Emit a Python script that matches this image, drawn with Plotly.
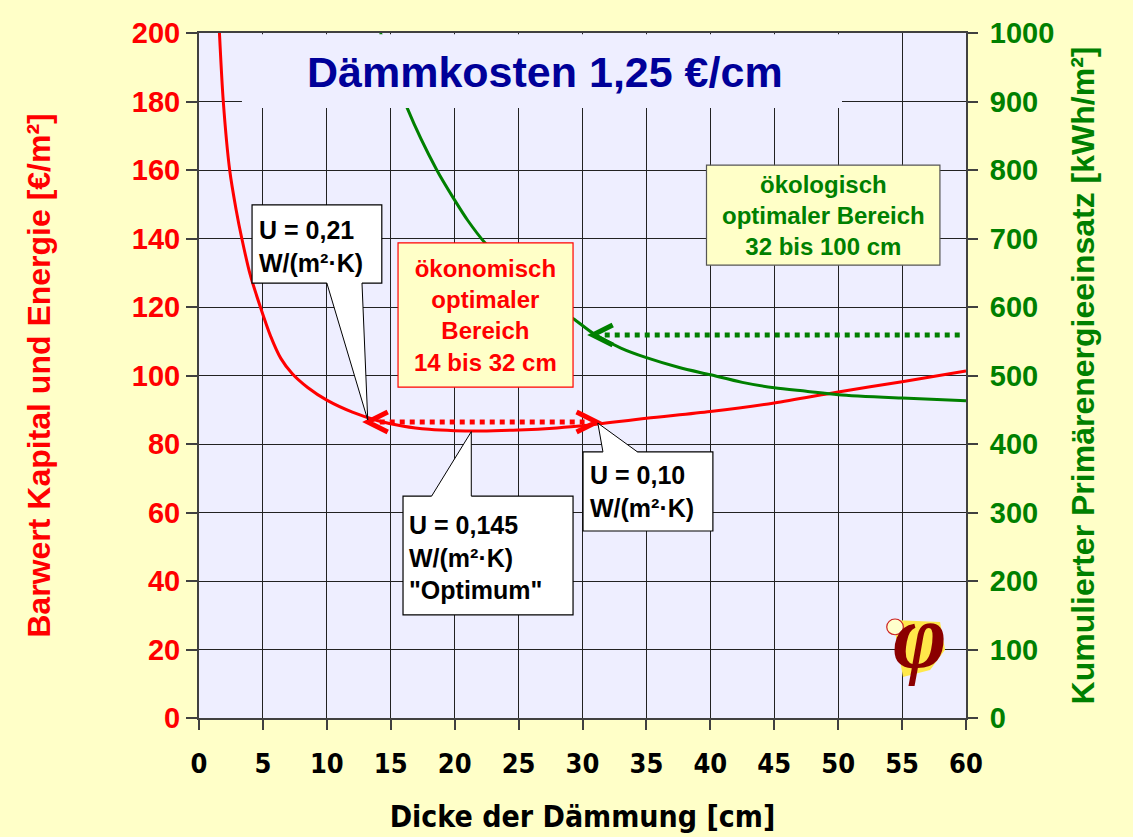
import plotly.graph_objects as go

# ---------------- data ----------------
thickness_cost = [1.6, 1.9, 2.4, 2.9, 3.35, 4.0, 4.8, 5.6, 6.4, 7.3, 8.5, 10, 12, 14, 16, 18,
                  20, 22, 25, 28, 30, 35, 40, 45, 50, 55, 60]
present_value = [200, 180, 160, 148.5, 140, 129.5, 120, 111.5, 105, 100.5, 96.5, 92.8, 89.3,
                 86.8, 85.2, 84.3, 83.9, 83.8, 84.1, 84.7, 85.3, 87.5, 89.5, 92, 95.2, 98.2,
                 101.3]

thickness_energy = [14.2, 16.3, 18.6, 20, 21, 22.4, 25, 27.5, 29.5, 30.8, 33, 35, 37.5,
                    40, 42.5, 45, 47.5, 50, 55, 60]
primary_energy = [1000, 890, 800, 756, 727, 693, 645, 605, 580, 562, 540, 526, 512,
                  501, 490, 482, 477, 472, 467, 463]

econ_range_x = [13.2, 31.1]
econ_range_y = 86.4
eco_range_x = [30.8, 59.7]
eco_range_y = 559

x_ticks = list(range(0, 61, 5))
y_ticks = list(range(0, 201, 20))
y2_ticks = list(range(0, 1001, 100))

title_text = "Dämmkosten 1,25 €/cm"
x_title = "Dicke der Dämmung [cm]"
y_title = "Barwert Kapital und Energie [€/m²]"
y2_title = "Kumulierter Primärenergieeinsatz [kWh/m²]"

# ---------------- style ----------------
PAPER = "#FFFFC8"
PLOT = "#EEEEFF"
RED = "#FF0000"
GREEN = "#008000"
NAVY = "#000099"
FONT = "Liberation Sans, Arial, sans-serif"
NARROW = "Liberation Sans Narrow, Arial Narrow, DejaVu Sans Condensed, Liberation Sans, sans-serif"

W, H = 1133, 837
ML, MR, MT, MB = 199, 167, 33, 119
X_RANGE, Y_RANGE, Y2_RANGE = [0, 60], [0, 200], [0, 1000]
px_x = (W - ML - MR) / (X_RANGE[1] - X_RANGE[0])
px_y = (H - MT - MB) / (Y_RANGE[1] - Y_RANGE[0])
px_y2 = (H - MT - MB) / (Y2_RANGE[1] - Y2_RANGE[0])

fig = go.Figure()

fig.add_trace(go.Scatter(x=thickness_cost, y=present_value, mode="lines",
                         line=dict(color=RED, width=3, shape="spline", smoothing=0.8),
                         showlegend=False, hoverinfo="skip"))
fig.add_trace(go.Scatter(x=thickness_energy, y=primary_energy, mode="lines", yaxis="y2",
                         line=dict(color=GREEN, width=3, shape="spline", smoothing=0.8),
                         showlegend=False, hoverinfo="skip"))

HEAD_LEN, HEAD_HALF = 20, 10
gap = 12 / px_x
fig.add_trace(go.Scatter(x=[econ_range_x[0] + gap, econ_range_x[1] - gap],
                         y=[econ_range_y, econ_range_y], mode="lines",
                         line=dict(color=RED, width=5, dash="dot"),
                         showlegend=False, hoverinfo="skip"))
fig.add_trace(go.Scatter(x=[eco_range_x[0] + gap, eco_range_x[1]],
                         y=[eco_range_y, eco_range_y], mode="lines", yaxis="y2",
                         line=dict(color=GREEN, width=5, dash="dot"),
                         showlegend=False, hoverinfo="skip"))

shapes = []
annotations = []


def chevron(tip_x, tip_y, direction, yref, ypx, color):
    dx = HEAD_LEN / px_x * direction
    dy = HEAD_HALF / ypx
    path = (f"M {tip_x + dx},{tip_y + dy} L {tip_x},{tip_y} L {tip_x + dx},{tip_y - dy}")
    shapes.append(dict(type="path", xref="x", yref=yref, path=path,
                       line=dict(color=color, width=5), layer="above"))


chevron(econ_range_x[0], econ_range_y, 1, "y", px_y, RED)
chevron(econ_range_x[1], econ_range_y, -1, "y", px_y, RED)
chevron(eco_range_x[0], eco_range_y, 1, "y2", px_y2, GREEN)

# title cover box
shapes.append(dict(type="rect", xref="x", yref="y", x0=3.36, x1=50.3, y0=178.1, y1=199.6,
                   fillcolor=PLOT, line=dict(width=0), layer="above"))
annotations.append(dict(x=27.1, y=188.6, xref="x", yref="y", text=title_text, showarrow=False,
                        font=dict(family=FONT, size=43, color=NAVY, weight="bold")))


def callout(box, base, tip, text, tx, ty):
    x0, x1, y0, y1 = box
    shapes.append(dict(type="rect", xref="x", yref="y", x0=x0, x1=x1, y0=y0, y1=y1,
                       fillcolor="white", line=dict(color="black", width=1.2), layer="above"))
    by = base[2]
    inset = 0.6 if by == y0 else -0.6
    path = (f"M {base[0]},{by + inset} L {base[0]},{by} L {tip[0]},{tip[1]} "
            f"L {base[1]},{by} L {base[1]},{by + inset} Z")
    shapes.append(dict(type="path", xref="x", yref="y", path=path, fillcolor="white",
                       line=dict(width=0), layer="above"))
    path2 = f"M {base[0]},{by} L {tip[0]},{tip[1]} L {base[1]},{by}"
    shapes.append(dict(type="path", xref="x", yref="y", path=path2,
                       line=dict(color="black", width=1), layer="above"))
    annotations.append(dict(x=tx, y=ty, xref="x", yref="y", text=text, showarrow=False,
                            xanchor="left", yanchor="middle", align="left",
                            font=dict(family=FONT, size=25, color="black", weight="bold")))


callout((4.15, 14.3, 127.0, 149.8), (10.0, 12.75, 127.0), (13.2, 87.0),
        "U = 0,21<br>W/(m²·K)", 4.5, 137.7)
callout((15.96, 29.26, 30.1, 64.8), (18.2, 21.3, 64.8), (21.3, 83.6),
        "U = 0,145<br>W/(m²·K)<br>\"Optimum\"", 16.3, 47.0)
callout((30.04, 40.2, 54.6, 77.7), (31.6, 34.3, 77.7), (31.2, 86.1),
        "U = 0,10<br>W/(m²·K)", 30.4, 66.0)

# economic optimum box
shapes.append(dict(type="rect", xref="x", yref="y", x0=15.57, x1=29.26, y0=96.6, y1=138.7,
                   fillcolor="#FFFFC8", line=dict(color=RED, width=1.2), layer="above"))
annotations.append(dict(x=22.41, y=117.4, xref="x", yref="y",
                        text="ökonomisch<br>optimaler<br>Bereich<br>14 bis 32 cm",
                        showarrow=False, align="center",
                        font=dict(family=FONT, size=24, color=RED, weight="bold")))

# ecological optimum box
shapes.append(dict(type="rect", xref="x", yref="y2", x0=39.7, x1=57.96, y0=661, y1=807,
                   fillcolor="#FFFFC8", line=dict(color="#555555", width=1.2), layer="above"))
annotations.append(dict(x=48.85, y=734, xref="x", yref="y2",
                        text="ökologisch<br>optimaler Bereich<br>32 bis 100 cm",
                        showarrow=False, align="center",
                        font=dict(family=FONT, size=24, color=GREEN, weight="bold")))

# logo (approximation)
shapes.append(dict(type="path", xref="x", yref="y",
                   path="M 54.29,28.6 L 57.97,28.0 L 58.36,19.9 L 57.19,14.0 L 55.07,12.0 Z",
                   fillcolor="#FFE84A", line=dict(width=0), layer="above"))
annotations.append(dict(x=56.4, y=24, xref="x", yref="y", text="φ", showarrow=False,
                        font=dict(family="Liberation Serif, serif", size=92,
                                  color="#8B0000", style="italic", weight="bold")))
shapes.append(dict(type="circle", xref="x", yref="y", x0=53.8, x1=55.1, y0=24.3, y1=28.9,
                   fillcolor="#FFFFCC", line=dict(color="#CC2222", width=1.2), layer="above"))

fig.update_layout(
    width=W, height=H,
    paper_bgcolor=PAPER, plot_bgcolor=PLOT,
    margin=dict(l=ML, r=MR, t=MT, b=MB, autoexpand=False),
    showlegend=False,
    shapes=shapes, annotations=annotations,
    xaxis=dict(range=X_RANGE, tickvals=x_ticks, showgrid=True, gridcolor="#222222",
               gridwidth=1.3, showline=True, linecolor="#404040", linewidth=2, mirror=True,
               ticks="outside", ticklen=10, tickcolor="#404040", tickwidth=1.5,
               ticklabelstandoff=11, zeroline=False, automargin=False,
               tickfont=dict(family=NARROW, size=27, color="black", weight="bold"),
               title=dict(text=x_title, standoff=28,
                          font=dict(family=NARROW, size=30, color="black", weight="bold"))),
    yaxis=dict(range=Y_RANGE, tickvals=y_ticks, showgrid=True, gridcolor="#222222",
               gridwidth=1.3, showline=True, linecolor="#404040", linewidth=2,
               ticks="outside", ticklen=11, tickcolor="#404040", tickwidth=1.5,
               zeroline=False, automargin=False,
               tickfont=dict(family=FONT, size=29, color=RED, weight="bold"),
               title=dict(text=y_title, standoff=72,
                          font=dict(family=FONT, size=32, color=RED, weight="bold"))),
    yaxis2=dict(range=Y2_RANGE, tickvals=y2_ticks, overlaying="y", side="right",
                showgrid=False, showline=True, linecolor="#404040", linewidth=2,
                ticks="outside", ticklen=10, tickcolor="#404040", tickwidth=1.5,
                ticklabelstandoff=6, zeroline=False, automargin=False,
                tickfont=dict(family=FONT, size=29, color=GREEN, weight="bold"),
                title=dict(text=y2_title, standoff=18,
                           font=dict(family=FONT, size=32, color=GREEN, weight="bold"))),
)

fig.write_html("out.html",
               config={"displayModeBar": False},
               post_script="document.body.style.margin='0';"
                           "document.body.style.background='#FFFFC8';")
